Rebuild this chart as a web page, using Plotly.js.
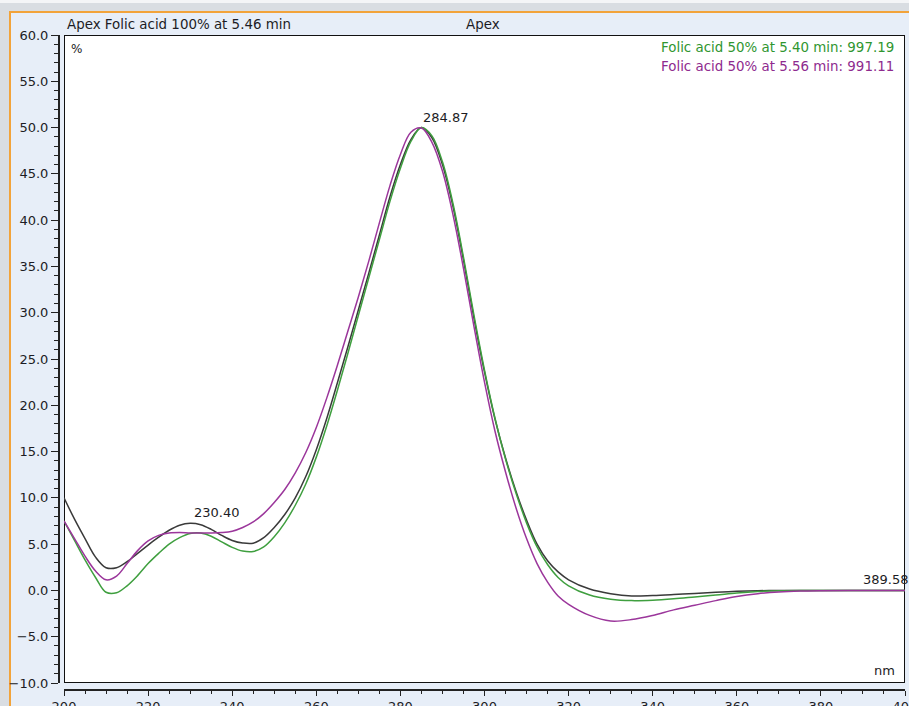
<!DOCTYPE html>
<html>
<head>
<meta charset="utf-8">
<script src="https://cdn.plot.ly/plotly-3.0.1.min.js"></script>
<style>
  html, body { margin: 0; padding: 0; width: 909px; height: 706px; overflow: hidden; background: #d9dde2; }
  #frame { position: absolute; left: 9px; top: 11px; right: 0; bottom: 0; border-left: 2px solid #f2a33a; border-top: 2px solid #f2a33a; background: #e7eef8; }
  #topline { position: absolute; left: 0; top: 0; width: 909px; height: 3px; background: #f4f5f7; }
  #chart { position: absolute; left: 0; top: 0; width: 909px; height: 706px; }
</style>
</head>
<body>
<div id="topline"></div>
<div id="frame"></div>
<div id="chart"></div>
<script>
// ---- data ----
const blackName = "Apex Folic acid 100% at 5.46 min";
const greenName = "Folic acid 50% at 5.40 min: 997.19";
const purpleName = "Folic acid 50% at 5.56 min: 991.11";

const wavelength = [
  200,202.5,205,207.5,210,212.5,215,217.5,220,222.5,
  225,227.5,230,232.5,235,237.5,240,242.5,245,247.5,
  250,252.5,255,257.5,260,262.5,265,267.5,270,272.5,
  275,277.5,280,282.5,285,287.5,290,292.5,295,297.5,
  300,302.5,305,307.5,310,312.5,315,317.5,320,
  325,330,335,340,345,350,355,360,365,370,375,380,390,400
];

const blackVal = [
  10.0,7.7,5.6,3.6,2.45,2.45,3.1,4.0,4.9,5.75,
  6.5,7.05,7.25,7.1,6.6,5.95,5.4,5.12,5.1,5.7,
  6.8,8.2,10.0,12.3,15.2,18.6,22.4,26.3,30.3,34.3,
  38.4,42.5,46.0,48.7,50.0,48.9,46.0,41.5,35.7,29.4,
  23.6,18.5,14.3,10.7,7.6,5.0,3.2,2.0,1.15,
  0.15,-0.35,-0.6,-0.55,-0.45,-0.33,-0.2,-0.1,-0.03,0,0,0,0,0
];

const greenVal = [
  7.5,5.4,3.3,1.4,-0.2,-0.25,0.5,1.6,2.9,4.0,
  5.0,5.7,6.15,6.2,5.85,5.25,4.65,4.25,4.2,4.7,
  5.8,7.3,9.2,11.5,14.4,17.8,21.6,25.6,29.7,33.8,
  37.9,42.0,45.6,48.5,50.0,49.1,46.3,41.8,36.0,29.7,
  23.8,18.6,14.2,10.5,7.3,4.7,2.8,1.4,0.5,
  -0.5,-0.95,-1.1,-1.05,-0.9,-0.7,-0.5,-0.28,-0.12,-0.03,0,0,0,0
];

const purpleVal = [
  7.5,5.6,3.7,2.1,1.15,1.55,2.9,4.3,5.35,5.95,
  6.2,6.25,6.2,6.2,6.2,6.25,6.4,6.8,7.4,8.3,
  9.5,10.9,12.7,14.9,17.6,20.8,24.3,28.0,31.7,35.6,
  39.7,43.7,47.1,49.5,49.95,48.4,45.3,40.6,34.8,28.5,
  22.5,17.2,12.8,8.9,5.6,2.9,0.9,-0.6,-1.5,
  -2.7,-3.3,-3.15,-2.7,-2.1,-1.6,-1.1,-0.65,-0.35,-0.17,-0.07,-0.03,0,0
];

const peakLabels = ["230.40", "284.87", "389.58"];
const peakNm = [230.40, 284.87, 389.58];
const peakVal = [7.25, 50.0, 0.0];

// ---- styling / layout ----
const FONT = "DejaVu Sans, Verdana, sans-serif";
const TXT = "#1c1c24";
const W = 909, H = 706;
const mL = 58, mR = 4, mT = 35, mB = 17;
const pw = W - mL - mR, ph = H - mT - mB;
const px = v => (v - mL) / pw;          // pixel x -> paper
const py = v => (H - mB - v) / ph;      // pixel y -> paper

const lineStyle = c => ({color: c, width: 1.5, shape: "spline", smoothing: 1});
const traces = [
  {x: wavelength, y: blackVal, name: blackName, type: "scatter", mode: "lines", line: lineStyle("#3a3a3a")},
  {x: wavelength, y: greenVal, name: greenName, type: "scatter", mode: "lines", line: lineStyle("#3f9f3f")},
  {x: wavelength, y: purpleVal, name: purpleName, type: "scatter", mode: "lines", line: lineStyle("#9b369b")}
];

const annotations = [
  {xref: "paper", yref: "paper", x: px(65), y: py(24), xanchor: "left", yanchor: "middle",
   text: blackName, showarrow: false, font: {family: FONT, size: 13.4, color: TXT}},
  {xref: "paper", yref: "paper", x: px(483), y: py(24), xanchor: "center", yanchor: "middle",
   text: "Apex", showarrow: false, font: {family: FONT, size: 13.4, color: TXT}},
  {xref: "paper", yref: "paper", x: px(69), y: py(49), xanchor: "left", yanchor: "middle",
   text: "%", showarrow: false, font: {family: FONT, size: 12, color: TXT}},
  {xref: "paper", yref: "paper", x: px(896), y: py(47), xanchor: "right", yanchor: "middle",
   text: greenName, showarrow: false, font: {family: FONT, size: 13.4, color: "#2f962f"}},
  {xref: "paper", yref: "paper", x: px(896), y: py(67), xanchor: "right", yanchor: "middle",
   text: purpleName, showarrow: false, font: {family: FONT, size: 13.4, color: "#8e2a8e"}},
  {xref: "paper", yref: "paper", x: px(897), y: py(670), xanchor: "right", yanchor: "middle",
   text: "nm", showarrow: false, font: {family: FONT, size: 13, color: TXT}}
];
peakLabels.forEach((t, i) => {
  annotations.push({x: peakNm[i], y: peakVal[i], xref: "x", yref: "y", text: t, showarrow: false,
    xanchor: "left", yanchor: "bottom", xshift: 0, yshift: 1,
    font: {family: FONT, size: 13, color: TXT}});
});

const layout = {
  width: W, height: H,
  margin: {l: mL, r: mR, t: mT, b: mB, pad: 0},
  paper_bgcolor: "rgba(0,0,0,0)",
  plot_bgcolor: "rgba(0,0,0,0)",
  showlegend: false,
  font: {family: FONT, size: 13, color: TXT},
  xaxis: {
    range: [200, 400], domain: [6 / pw, 1], anchor: "free", position: 0,
    showline: true, linecolor: "#222", linewidth: 1.5, mirror: false,
    ticks: "outside", ticklen: 5, tickwidth: 1, tickcolor: "#222",
    tick0: 200, dtick: 20, tickformat: "d", ticklabeloverflow: "allow",
    minor: {dtick: 5, ticks: "outside", ticklen: 3, tickcolor: "#222", tickwidth: 1},
    showgrid: false, zeroline: false,
    tickfont: {family: FONT, size: 13, color: TXT}
  },
  yaxis: {
    range: [-10, 60], domain: [6 / ph, 1], anchor: "free", position: 0,
    showline: true, linecolor: "#222", linewidth: 1.5,
    ticks: "outside", ticklen: 7, tickwidth: 1, tickcolor: "#222",
    tick0: 0, dtick: 5, tickformat: ".1f",
    minor: {dtick: 1, ticks: "outside", ticklen: 4, tickcolor: "#222", tickwidth: 1},
    showgrid: false, zeroline: false,
    tickfont: {family: FONT, size: 13, color: TXT}
  },
  shapes: [
    {type: "rect", xref: "x", yref: "y", x0: 200, x1: 400, y0: -10, y1: 60,
     fillcolor: "#ffffff", line: {color: "#111", width: 2}, layer: "below"}
  ],
  annotations: annotations
};

Plotly.newPlot("chart", traces, layout, {displayModeBar: false, staticPlot: true});
</script>
</body>
</html>
